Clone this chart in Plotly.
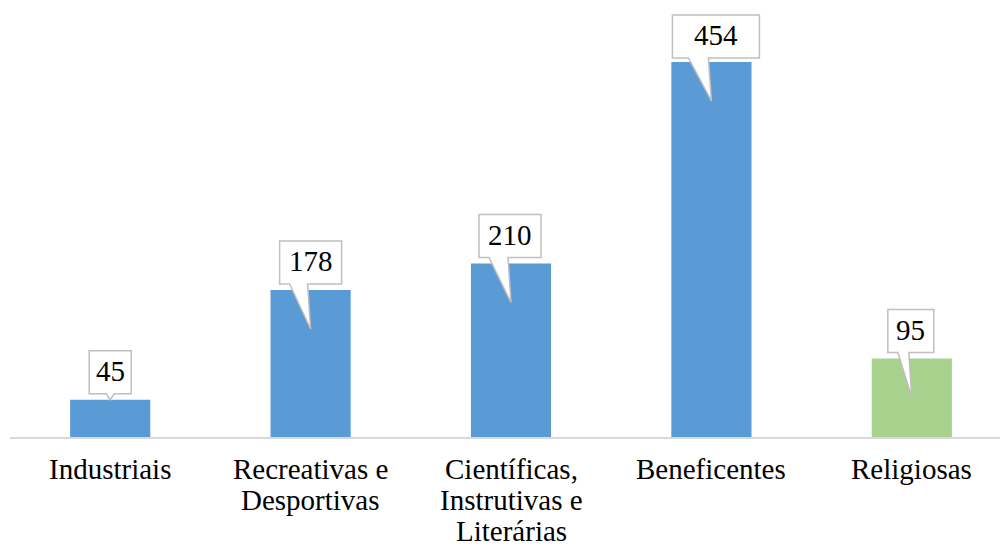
import plotly.graph_objects as go

# Number of associations by type
categories = [
    "Industriais",
    "Recreativas e<br>Desportivas",
    "Científicas,<br>Instrutivas e<br>Literárias",
    "Beneficentes",
    "Religiosas",
]
values = [45, 178, 210, 454, 95]
bar_colors = ["#5B9BD5", "#5B9BD5", "#5B9BD5", "#5B9BD5", "#A9D18E"]

# callout box geometry (pixels, relative to the top-centre of each bar)
box_left = [-21, -31, -32, -39, -24]
box_right = [21, 31, 30, 48, 22]

FONT = "Liberation Serif"
FS = 29
Y_MAX = 529
PLOT_H = 437  # pixel height of the plotting area

xs = list(range(len(categories)))

fig = go.Figure()
fig.add_trace(go.Bar(
    x=xs, y=values, width=0.4,
    marker=dict(color=bar_colors, line=dict(width=0)),
    hoverinfo="skip",
))

px_per_unit = PLOT_H / Y_MAX
for i, v in enumerate(values):
    bl, br = box_left[i], box_right[i]
    bottom = 4 if v > 300 else 6
    top = bottom + 43
    # pointer goes into the bar when it is tall enough
    if v * px_per_unit > 60:
        pl, pr = bl + (16 if v > 300 else 10), -3
        tip_y = -39
    else:
        pl, pr = -4, 4
        tip_y = 0
    path = (f"M {bl},{bottom} L {pl},{bottom} L 0,{tip_y} L {pr},{bottom} "
            f"L {br},{bottom} L {br},{top} L {bl},{top} Z")
    fig.add_shape(
        type="path", xref="x", yref="y",
        xsizemode="pixel", ysizemode="pixel",
        xanchor=i, yanchor=v, path=path,
        fillcolor="white", line=dict(color="#BFBFBF", width=1.5),
        layer="above",
    )
    fig.add_annotation(
        x=i, y=v, xref="x", yref="y", text=str(v), showarrow=False,
        xshift=(bl + br) / 2, yshift=(bottom + top) / 2 + 1,
        xanchor="center", yanchor="middle",
        font=dict(family=FONT, size=FS, color="black"),
    )

# category labels, one annotation per line for tight line spacing
for i, cat in enumerate(categories):
    for k, line in enumerate(cat.split("<br>")):
        fig.add_annotation(
            x=i, y=0, xref="x", yref="y", text=line, showarrow=False,
            xanchor="center", yanchor="top", yshift=-14 - 31 * k,
            font=dict(family=FONT, size=FS, color="black"),
        )

fig.update_layout(
    width=1000, height=549,
    margin=dict(l=10, r=0, t=0, b=112),
    paper_bgcolor="white", plot_bgcolor="white",
    showlegend=False,
    xaxis=dict(range=[-0.5, 4.44], showticklabels=False, showgrid=False,
               zeroline=False, showline=True, linecolor="#D9D9D9",
               linewidth=1.5, ticks="", fixedrange=True),
    yaxis=dict(range=[0, Y_MAX], visible=False, showgrid=False,
               zeroline=False, fixedrange=True),
)

fig.write_html("out.html")
